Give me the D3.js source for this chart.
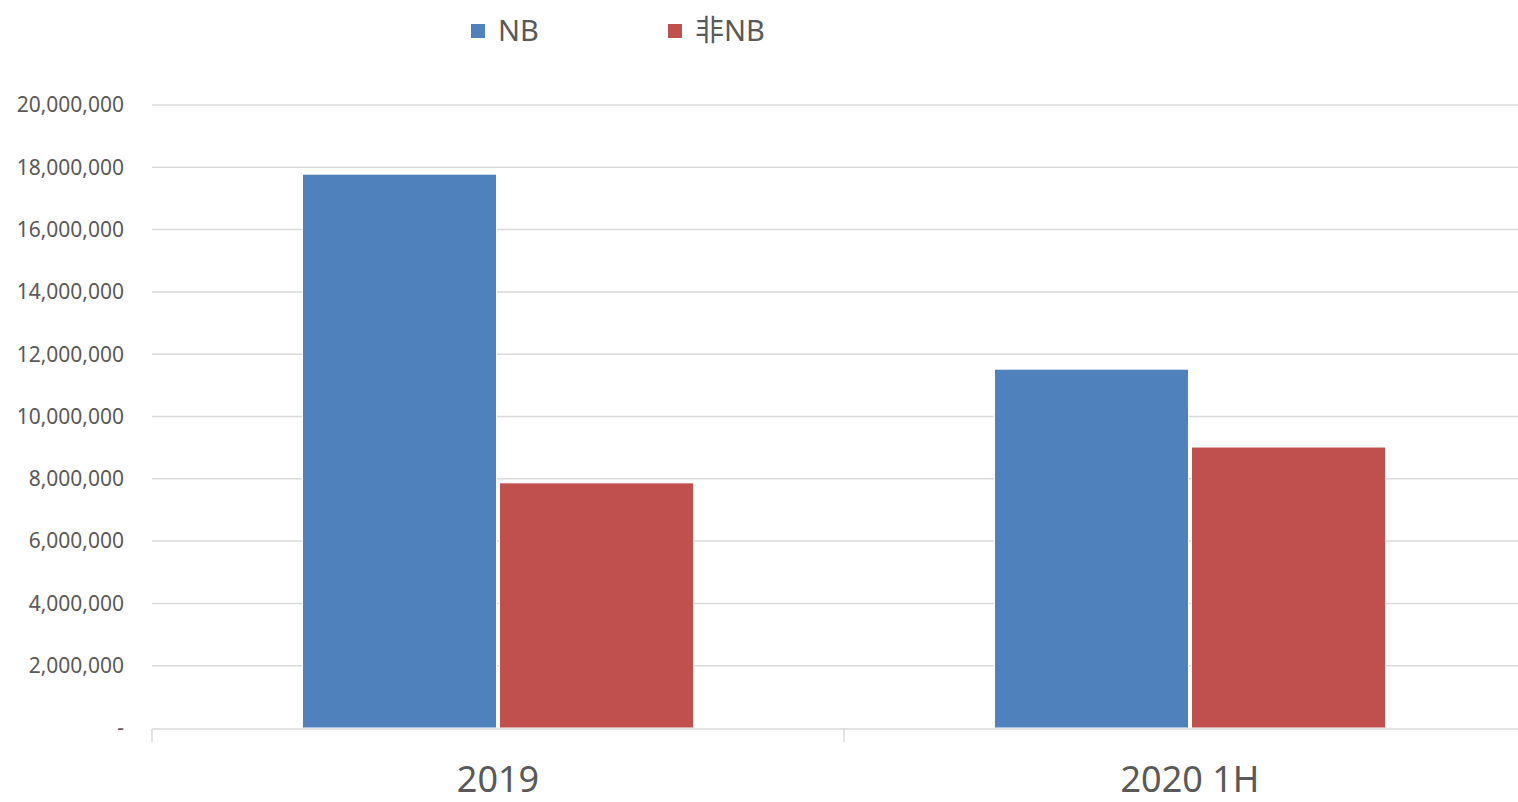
<!DOCTYPE html>
<html>
<head>
<meta charset="utf-8">
<script src="https://cdn.jsdelivr.net/npm/d3@7"></script>
<style>
  body { margin: 0; background: #fff; }
  text { font-family: "Noto Sans", "Noto Sans CJK SC", sans-serif; fill: #595959; }
</style>
</head>
<body>
<div id="chart"></div>
<script>
// data
let categories = ["2019", "2020 1H"];
let seriesNames = ["NB", "非NB"];
let nbValues = [17780000, 11520000];
let nonNbValues = [7870000, 9020000];
let yTicks = [0, 2000000, 4000000, 6000000, 8000000, 10000000, 12000000, 14000000, 16000000, 18000000, 20000000];
let colors = ["#4f81bd", "#c0504d"];

let width = 1518, height = 802;
let margin = { left: 152, top: 105, bottom: 74 };
// the plot area runs a little past the right edge of the picture
let plotRight = 1536;

let svg = d3.select("#chart").append("svg")
  .attr("width", width)
  .attr("height", height);

let x = d3.scaleBand()
  .domain(categories)
  .range([margin.left, plotRight]);

let xInner = d3.scaleBand()
  .domain(seriesNames)
  .range([0, x.bandwidth()])
  .paddingInner(0.015)
  .paddingOuter(0.764);

let y = d3.scaleLinear()
  .domain([0, 20000000])
  .range([height - margin.bottom, margin.top]);

// gridlines
svg.append("g")
  .selectAll("line")
  .data(yTicks.slice(1))
  .enter()
  .append("line")
  .attr("x1", margin.left)
  .attr("x2", width)
  .attr("y1", d => y(d))
  .attr("y2", d => y(d))
  .attr("stroke", "#d9d9d9")
  .attr("stroke-width", 1.5);

// y labels
svg.append("g")
  .selectAll("text")
  .data(yTicks)
  .enter()
  .append("text")
  .attr("x", 124)
  .attr("y", d => y(d))
  .attr("dy", "0.35em")
  .attr("text-anchor", "end")
  .style("font-size", "21px")
  .text(d => d === 0 ? "-" : d3.format(",")(d));

// bars
let rows = categories.map((c, i) => ({ cat: c, vals: [nbValues[i], nonNbValues[i]] }));

let groups = svg.append("g")
  .selectAll("g")
  .data(rows)
  .enter()
  .append("g")
  .attr("transform", d => "translate(" + x(d.cat) + ",0)");

groups.selectAll("rect")
  .data(d => d.vals.map((v, j) => ({ name: seriesNames[j], value: v, color: colors[j] })))
  .enter()
  .append("rect")
  .attr("x", d => xInner(d.name))
  .attr("y", d => y(d.value))
  .attr("width", xInner.bandwidth())
  .attr("height", d => y(0) - y(d.value))
  .attr("fill", d => d.color)
  .attr("stroke", "#fff")
  .attr("stroke-width", 1);

// x axis line
svg.append("line")
  .attr("x1", margin.left)
  .attr("x2", width)
  .attr("y1", y(0) + 1)
  .attr("y2", y(0) + 1)
  .attr("stroke", "#d9d9d9")
  .attr("stroke-width", 1.5);

// category boundary ticks
let boundaries = categories.map(c => x(c));
svg.append("g")
  .selectAll("line")
  .data(boundaries)
  .enter()
  .append("line")
  .attr("x1", d => d)
  .attr("x2", d => d)
  .attr("y1", y(0) + 1)
  .attr("y2", y(0) + 14)
  .attr("stroke", "#d9d9d9")
  .attr("stroke-width", 1.5);

svg.append("g")
  .selectAll("text")
  .data(categories)
  .enter()
  .append("text")
  .attr("x", d => x(d) + x.bandwidth() / 2)
  .attr("y", 792)
  .attr("text-anchor", "middle")
  .style("font-size", "36px")
  .text(d => d);

// legend
let legendX = [471, 668];
let legend = svg.append("g")
  .selectAll("g")
  .data(seriesNames)
  .enter()
  .append("g")
  .attr("transform", (d, i) => "translate(" + legendX[i] + ",0)");

legend.append("rect")
  .attr("x", 0)
  .attr("y", 24)
  .attr("width", 14)
  .attr("height", 14)
  .attr("fill", (d, i) => colors[i]);

legend.append("text")
  .attr("x", 27)
  .attr("y", 41)
  .style("font-size", "29px")
  .text(d => d);
</script>
</body>
</html>
